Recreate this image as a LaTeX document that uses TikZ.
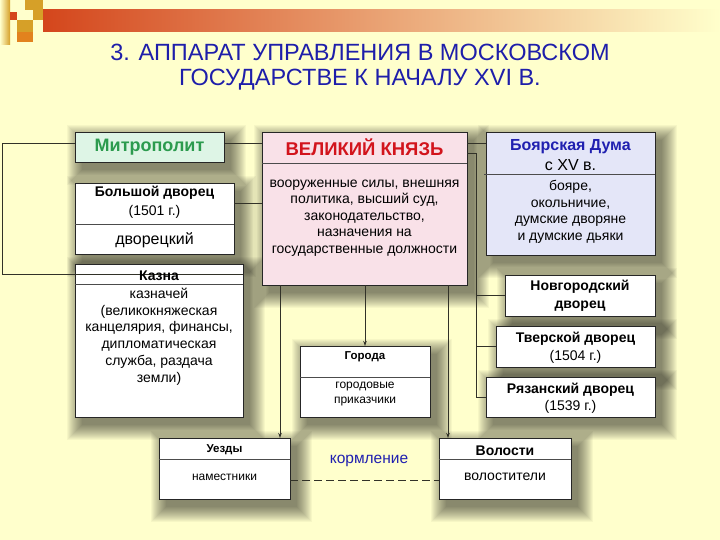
\documentclass[tikz,border=0pt]{standalone}
\usepackage{fontspec}
\setmainfont{Liberation Sans}
\usetikzlibrary{calc,arrows.meta}
\definecolor{bg}{RGB}{255,255,204}
\definecolor{barred}{RGB}{212,70,28}
\definecolor{goldsq}{RGB}{214,160,40}
\definecolor{orsq}{RGB}{226,130,30}
\definecolor{titleblue}{RGB}{30,30,170}
\definecolor{mitrfill}{RGB}{222,245,230}
\definecolor{mitrgreen}{RGB}{44,155,78}
\definecolor{vkfill}{RGB}{249,225,232}
\definecolor{vkred}{RGB}{210,20,28}
\definecolor{bdfill}{RGB}{228,230,248}
\definecolor{bdblue}{RGB}{32,32,176}
\definecolor{lineclr}{RGB}{50,50,40}
\pgfdeclarelayer{back}
\pgfdeclarelayer{shad}
\pgfsetlayers{back,shad,main}
\newcommand\fshadow[1]{%
  \foreach \r in {0,...,15}{%
    \fill[black,opacity=0.035] ($(#1.north west)+(7-\r,8-\r)$) rectangle ($(#1.south east)+(7+\r,8+\r)$);}}
\begin{document}
\begin{tikzpicture}[x=1pt,y=-1pt,
  box/.style={draw=black!85, line width=0.9pt, fill=white, anchor=north west, inner sep=0pt, outer sep=0pt},
  txt/.style={inner sep=0pt, align=center},
  body/.style={txt, font=\fontsize{14}{16.6}\selectfont},
  bhead/.style={txt, font=\bfseries\fontsize{14}{17.5}\selectfont},
  small/.style={txt, font=\fontsize{12}{14.5}\selectfont},
  divider/.style={draw=black!70, line width=0.9pt},
  conn/.style={draw=lineclr, line width=0.9pt},
  arr/.style={conn, -{Stealth[length=5pt,width=3.5pt]}}]
\begin{pgfonlayer}{back}
\fill[bg] (0,0) rectangle (720,540);
% top decoration
\shade[left color=barred, right color=bg] (43,10) rectangle (720,32);
\shade[left color=bg, right color=goldsq] (0,0) rectangle (10,45);
\fill[goldsq] (25,0) rectangle (43,10);
\fill[goldsq] (33,10) rectangle (43,20);
\fill[barred] (10,12) rectangle (17,20);
\fill[goldsq] (17,20) rectangle (33,32);
\fill[orsq] (17,32) rectangle (33,42);
\end{pgfonlayer}
\useasboundingbox (0,0) rectangle (720,540);
% title
\node[txt, text=titleblue, font=\fontsize{23.5}{25}\selectfont] (title) at (360,67.5)
  {3. АППАРАТ УПРАВЛЕНИЯ В МОСКОВСКОМ\\ГОСУДАРСТВЕ К НАЧАЛУ XVI В.};
% coordinates for the left bracket and right trunk
\coordinate (brTL) at (2,143);
\coordinate (brBL) at (2,274);
\coordinate (trT) at (476,153);
\coordinate (trB) at (476,397);
% left bracket (top part, behind boxes)
\draw[conn] (brBL) -- (brTL) -- (262,143);
% boxes
\node[box, fill=mitrfill, minimum width=149pt, minimum height=30pt] (mitr) at (75,132) {};
\node[box, fill=vkfill, minimum width=205pt, minimum height=153pt] (vk) at (262,132) {};
\node[box, fill=bdfill, minimum width=169pt, minimum height=123pt] (duma) at (486,132) {};
\node[box, minimum width=159pt, minimum height=71pt] (bdv) at (75,183) {};
\node[box, minimum width=168pt, minimum height=153pt] (kazna) at (75,264) {};
\node[box, minimum width=150pt, minimum height=41pt] (nov) at (505,275) {};
\node[box, minimum width=159pt, minimum height=41pt] (tver) at (496,326) {};
\node[box, minimum width=169pt, minimum height=40pt] (ryaz) at (486,377) {};
\node[box, minimum width=130pt, minimum height=71pt] (gor) at (300,346) {};
\node[box, minimum width=131pt, minimum height=61pt] (uezd) at (159,438) {};
\node[box, minimum width=132pt, minimum height=61pt] (vol) at (439,438) {};
% shadows
\begin{pgfonlayer}{shad}
\fshadow{mitr}\fshadow{vk}\fshadow{duma}\fshadow{bdv}\fshadow{kazna}
\fshadow{nov}\fshadow{tver}\fshadow{ryaz}\fshadow{gor}\fshadow{uezd}\fshadow{vol}
\end{pgfonlayer}
% dividers
\draw[divider] ($(vk.north west)+(0,31)$) -- ($(vk.north east)+(0,31)$);
\draw[divider] ($(duma.north west)+(-2,42)$) -- ($(duma.north east)+(0,42)$);
\draw[divider] ($(bdv.north west)+(0,41)$) -- ($(bdv.north east)+(0,41)$);
\draw[divider] ($(kazna.north west)+(0,20)$) -- ($(kazna.north east)+(0,20)$);
\draw[divider] ($(gor.north west)+(0,31)$) -- ($(gor.north east)+(0,31)$);
\draw[divider] ($(uezd.north west)+(0,21)$) -- ($(uezd.north east)+(0,21)$);
\draw[divider] ($(vol.north west)+(0,21)$) -- ($(vol.north east)+(0,21)$);
% bottom of the left bracket, across the Казна header
\draw[conn] (brBL) -- ($(kazna.north east)+(0,10)$);
% connectors
\draw[conn] ($(bdv.north east)+(0,20)$) -- ($(vk.north west)+(0,71)$);
\draw[conn] ($(vk.north east)+(0,11)$) -- ($(duma.north west)+(0,11)$);
\draw[conn] ($(vk.north east)+(0,21)$) -- (trT) -- (trB);
\draw[conn] (nov.west -| trT) -- (nov.west);
\draw[conn] (tver.west -| trT) -- (tver.west);
\draw[conn] (trB) -- (ryaz.west);
\draw[arr] ([xshift=18pt]vk.south west) -- ([xshift=121pt]uezd.north west);
\draw[arr] (vk.south -| gor.north) -- (gor.north);
\draw[arr] ([xshift=186pt]vk.south west) -- ([xshift=9pt]vol.north west);
\draw[conn, dash pattern=on 8pt off 4pt] ($(uezd.south east)+(0,-19)$) -- ($(vol.south west)+(0,-19)$);
% texts
\node[txt, text=mitrgreen, font=\bfseries\fontsize{18}{20}\selectfont] (mitrT) at (mitr.center) {Митрополит};
\node[txt, text=vkred, font=\bfseries\fontsize{18.5}{20}\selectfont] (vkT) at ($(vk.north)+(0,15)$) {ВЕЛИКИЙ КНЯЗЬ};
\node[body] (vkB) at ($(vk.north)+(0,86)$) {вооруженные силы, внешняя\\политика, высший суд,\\законодательство,\\назначения на\\государственные должности};
\node[txt, text=bdblue, font=\bfseries\fontsize{16}{18}\selectfont] (dumaT) at ($(duma.north)+(0,15)$) {Боярская Дума};
\node[txt, font=\fontsize{16}{19}\selectfont] (dumaS) at ($(duma.north)+(0,33.5)$) {с XV в.};
\node[body] (dumaB) at ($(duma.north)+(0,80)$) {бояре,\\окольничие,\\думские дворяне\\и думские дьяки};
\node[bhead] (bdvT) at ($(bdv.north)+(0,10)$) {Большой дворец};
\node[body] (bdvY) at ($(bdv.north)+(0,29)$) {(1501 г.)};
\node[txt, font=\fontsize{16}{18}\selectfont] (bdvB) at ($(bdv.north)+(0,57)$) {дворецкий};
\node[bhead] (kaznaT) at ($(kazna.north)+(0,12)$) {Казна};
\node[txt, font=\fontsize{14}{16.8}\selectfont] (kaznaB) at ($(kazna.north)+(0,72.5)$) {казначей\\(великокняжеская\\канцелярия, финансы,\\дипломатическая\\служба, раздача\\земли)};
\node[bhead] (novT) at (nov.center) {Новгородский\\дворец};
\node[bhead] (tverT) at ($(tver.center)+(0,1)$) {Тверской дворец\\\mdseries (1504 г.)};
\node[bhead] (ryazT) at ($(ryaz.center)+(0,1)$) {Рязанский дворец\\\mdseries (1539 г.)};
\node[txt, font=\bfseries\fontsize{11.5}{14}\selectfont] (gorT) at ($(gor.north)+(0,11)$) {Города};
\node[small] (gorB) at ($(gor.north)+(0,48)$) {городовые\\приказчики};
\node[txt, font=\bfseries\fontsize{11.5}{14}\selectfont] (uezdT) at ($(uezd.north)+(0,12)$) {Уезды};
\node[small] (uezdB) at ($(uezd.north)+(0,39)$) {наместники};
\node[txt, font=\bfseries\fontsize{14}{16}\selectfont] (volT) at ($(vol.north)+(0,12.5)$) {Волости};
\node[txt, font=\fontsize{14}{16}\selectfont] (volB) at ($(vol.north)+(0,39)$) {волостители};
\node[txt, text=bdblue, font=\fontsize{15.5}{18}\selectfont] (korm) at (369,461) {кормление};
\end{tikzpicture}
\end{document}
